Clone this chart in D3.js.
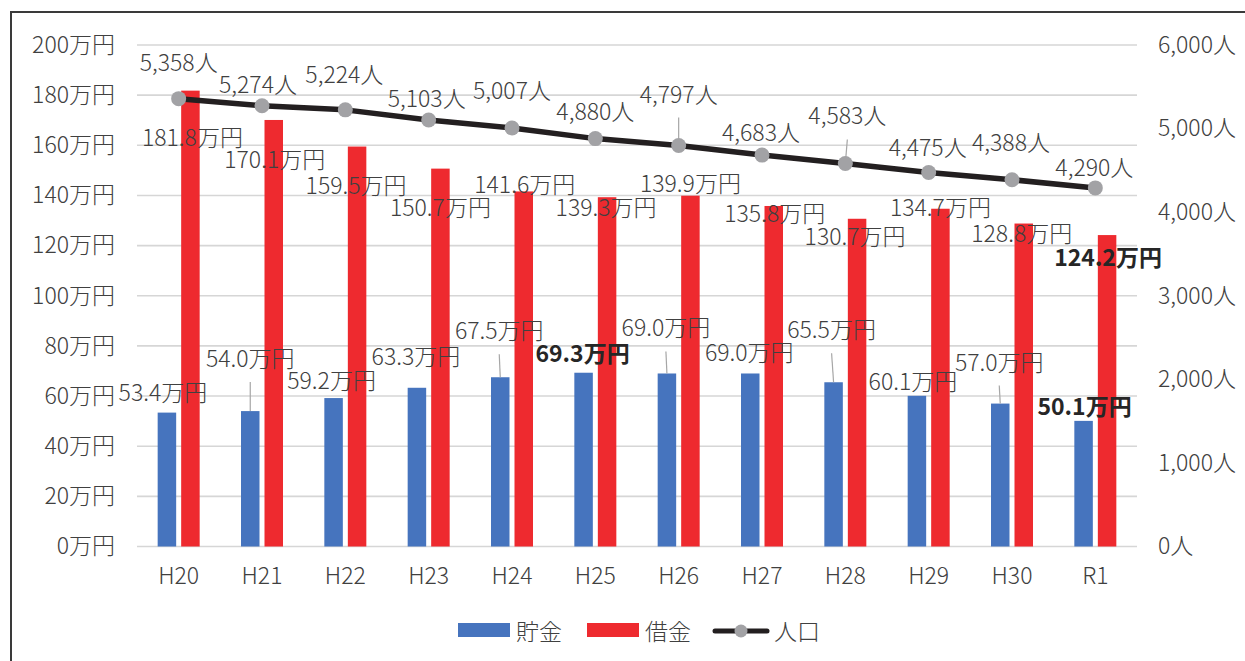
<!DOCTYPE html>
<html>
<head>
<meta charset="utf-8">
<script src="https://cdn.jsdelivr.net/npm/d3@7"></script>
<style>
  html, body { margin: 0; padding: 0; background: #fff; }
  svg { display: block; }
  text { font-family: "Noto Sans CJK JP", "Noto Sans", sans-serif; }
</style>
</head>
<body>
<svg id="chart" width="1245" height="661"></svg>
<script>
// Fiscal years
const years = ["H20","H21","H22","H23","H24","H25","H26","H27","H28","H29","H30","R1"];
// 貯金 (savings per person, 万円)
const savings = [53.4, 54.0, 59.2, 63.3, 67.5, 69.3, 69.0, 69.0, 65.5, 60.1, 57.0, 50.1];
// 借金 (debt per person, 万円)
const debt = [181.8, 170.1, 159.5, 150.7, 141.6, 139.3, 139.9, 135.8, 130.7, 134.7, 128.8, 124.2];
// 人口 (population)
const population = [5358, 5274, 5224, 5103, 5007, 4880, 4797, 4683, 4583, 4475, 4388, 4290];

// Axis ticks
const yenTicks = [0, 20, 40, 60, 80, 100, 120, 140, 160, 180, 200];
const popTicks = [0, 1000, 2000, 3000, 4000, 5000, 6000];

// Emphasised labels
const savingsBold = [false,false,false,false,false,true,false,false,false,false,false,true];
const debtBold    = [false,false,false,false,false,false,false,false,false,false,false,true];

// Label offsets from each mark's anchor (label centre minus mark top), in px
const savingsLabelOffset = [[-4,-22],[0,-54],[-2,-19],[-1,-33],[-1,-48],[-1,-21],[-1,-47],[-1,-22],[-2,-54],[-4,-16],[-1,-43],[1,-16]];
const debtLabelOffset    = [[2,45],[1,38],[-1,37],[0,37],[1,-8],[-1,9],[0,-14],[1,6],[-2,16],[0,-3],[-2,8],[1,21]];
const popLabelOffset     = [[0,-38],[-4,-23],[-1,-37],[-2,-23],[0,-39],[0,-29],[0,-53],[-1,-24],[2,-49],[-1,-26],[-1,-39],[-1,-22]];

const COLORS = { savings: "#4674be", debt: "#ee2a2f", line: "#231f20", marker: "#a2a2a5", text: "#404040", grid: "#d6d6d6", frame: "#3a3a3a" };
const FONT = 23;
const WEIGHT = 300;

const svg = d3.select("#chart");
const plot = { left: 137, right: 1137, top: 45, bottom: 546.5 };

const x = d3.scaleBand().domain(years).range([plot.left, plot.right]);
const yYen = d3.scaleLinear().domain([0, 200]).range([plot.bottom, plot.top]);
const yPop = d3.scaleLinear().domain([0, 6000]).range([plot.bottom, plot.top]);

const barW = 18.5, barGap = 5;
const blueCx = i => x(years[i]) + x.bandwidth() / 2 - barGap / 2 - barW / 2;
const redCx  = i => x(years[i]) + x.bandwidth() / 2 + barGap / 2 + barW / 2;
const ptX = i => x(years[i]) + x.bandwidth() / 2;

// Frame (left and top edges)
svg.append("line").attr("x1", 11).attr("x2", 11).attr("y1", 11).attr("y2", 661)
  .attr("stroke", COLORS.frame).attr("stroke-width", 2);
svg.append("line").attr("x1", 10).attr("x2", 1245).attr("y1", 12).attr("y2", 12)
  .attr("stroke", COLORS.frame).attr("stroke-width", 2);

// Gridlines
svg.append("g").selectAll("line").data(yenTicks).join("line")
  .attr("x1", plot.left).attr("x2", plot.right)
  .attr("y1", d => yYen(d)).attr("y2", d => yYen(d))
  .attr("stroke", COLORS.grid).attr("stroke-width", 1.6);

function styleAxisText(g) {
  g.select(".domain").remove();
  g.selectAll("text").attr("font-size", FONT).attr("font-weight", WEIGHT)
    .attr("fill", COLORS.text).attr("font-family", '"Noto Sans CJK JP", sans-serif');
}

// Left axis
const fmtYen = d => d + "万円";
svg.append("g").attr("transform", `translate(${plot.left - 22},0)`)
  .call(d3.axisLeft(yYen).tickValues(yenTicks).tickSize(0).tickPadding(0).tickFormat(fmtYen))
  .call(styleAxisText);

// Right axis
const fmtPop = d => d3.format(",")(d) + "人";
svg.append("g").attr("transform", `translate(${plot.right + 21},0)`)
  .call(d3.axisRight(yPop).tickValues(popTicks).tickSize(0).tickPadding(0).tickFormat(fmtPop))
  .call(styleAxisText);

// Bottom axis
svg.append("g").attr("transform", `translate(0,${plot.bottom + 20})`)
  .call(d3.axisBottom(x).tickSize(0).tickPadding(0))
  .call(styleAxisText)
  .selectAll("text").attr("dy", "0.75em");

// Bars
svg.append("g").selectAll("rect").data(savings).join("rect")
  .attr("x", (d, i) => blueCx(i) - barW / 2).attr("width", barW)
  .attr("y", d => yYen(d)).attr("height", d => yYen(0) - yYen(d))
  .attr("fill", COLORS.savings);
svg.append("g").selectAll("rect").data(debt).join("rect")
  .attr("x", (d, i) => redCx(i) - barW / 2).attr("width", barW)
  .attr("y", d => yYen(d)).attr("height", d => yYen(0) - yYen(d))
  .attr("fill", COLORS.debt);

// Leader lines for labels lifted well above their marks
const leaders = svg.append("g").attr("stroke", "#a6a6a6").attr("stroke-width", 1.2);
function addLeaders(values, cx, yScale, offsets) {
  values.forEach((v, i) => {
    const [dx, dy] = offsets[i];
    if (dy < -40) {
      const my = yScale(v);
      leaders.append("line")
        .attr("x1", cx(i) + dx).attr("y1", my + dy + 25)
        .attr("x2", cx(i)).attr("y2", my);
    }
  });
}
addLeaders(savings, blueCx, yYen, savingsLabelOffset);
addLeaders(population, ptX, yPop, popLabelOffset);

// Population line
const line = d3.line().x((d, i) => ptX(i)).y(d => yPop(d));
svg.append("path").datum(population).attr("d", line)
  .attr("fill", "none").attr("stroke", COLORS.line).attr("stroke-width", 5.5)
  .attr("stroke-linejoin", "round");
svg.append("g").selectAll("circle").data(population).join("circle")
  .attr("cx", (d, i) => ptX(i)).attr("cy", d => yPop(d)).attr("r", 7.5)
  .attr("fill", COLORS.marker);

// Data labels
function addLabels(values, cx, yScale, offsets, fmt, bold) {
  svg.append("g").selectAll("text").data(values).join("text")
    .attr("x", (d, i) => cx(i) + offsets[i][0])
    .attr("y", (d, i) => yScale(d) + offsets[i][1])
    .attr("text-anchor", "middle").attr("dominant-baseline", "central")
    .attr("font-size", FONT)
    .attr("font-weight", (d, i) => bold && bold[i] ? 700 : WEIGHT)
    .attr("fill", (d, i) => bold && bold[i] ? "#262626" : COLORS.text)
    .text(fmt);
}
const fmtMan = d => d.toFixed(1) + "万円";
addLabels(debt, redCx, yYen, debtLabelOffset, fmtMan, debtBold);
addLabels(savings, blueCx, yYen, savingsLabelOffset, fmtMan, savingsBold);
addLabels(population, ptX, yPop, popLabelOffset, fmtPop, null);

// Legend
const legend = svg.append("g").attr("font-size", FONT).attr("font-weight", WEIGHT).attr("fill", COLORS.text);
const ly = 630;
legend.append("rect").attr("x", 458).attr("y", ly - 7).attr("width", 52).attr("height", 14).attr("fill", COLORS.savings);
legend.append("text").attr("x", 516).attr("y", ly).attr("dominant-baseline", "central").text("貯金");
legend.append("rect").attr("x", 587).attr("y", ly - 7).attr("width", 52).attr("height", 14).attr("fill", COLORS.debt);
legend.append("text").attr("x", 645).attr("y", ly).attr("dominant-baseline", "central").text("借金");
legend.append("line").attr("x1", 715).attr("x2", 767).attr("y1", ly + 1).attr("y2", ly + 1)
  .attr("stroke", COLORS.line).attr("stroke-width", 5).attr("stroke-linecap", "round");
legend.append("circle").attr("cx", 741).attr("cy", ly + 1).attr("r", 6.5).attr("fill", COLORS.marker);
legend.append("text").attr("x", 774).attr("y", ly).attr("dominant-baseline", "central").text("人口");
</script>
</body>
</html>
